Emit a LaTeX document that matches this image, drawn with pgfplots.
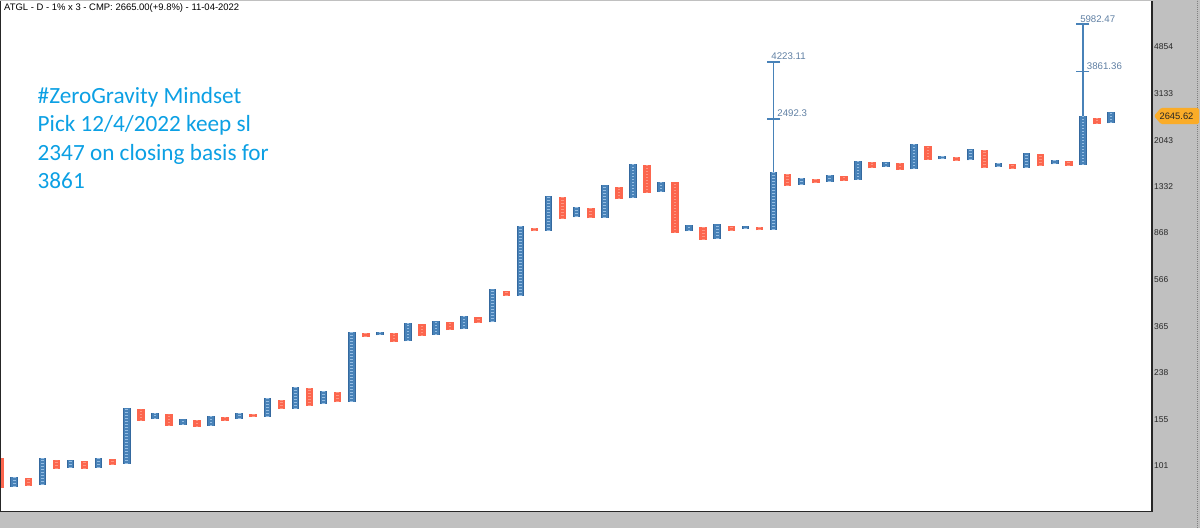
\documentclass[border=0pt]{standalone}
\usepackage{pgfplots}
\pgfplotsset{compat=1.18}
\usepackage{pgfplotstable}
\usepackage{fontspec}
\setmainfont{Liberation Sans}
\newfontfamily\calibri{Carlito}

\definecolor{xblue}{RGB}{72,130,184}
\definecolor{xbluedk}{RGB}{52,104,158}
\definecolor{xbluelt}{RGB}{150,190,228}
\definecolor{ored}{RGB}{252,102,78}
\definecolor{oredlt}{RGB}{255,150,130}
\definecolor{txtblue}{RGB}{12,160,228}
\definecolor{tgtlab}{RGB}{96,128,164}
\definecolor{tag}{RGB}{250,172,40}
\definecolor{panel}{RGB}{192,192,192}

% X columns (rising), column index, low, high
\pgfplotstableread{
x lo hi
1 82.8 90.8
3 84.3 108.3
5 98.7 106.3
7 98.7 108.3
9 102.4 172.4
11 155.2 164.1
13 146.9 155.2
15 145.5 159.6
17 155.2 164.1
19 158.6 188.1
21 170.3 209.4
23 177.9 201.2
25 182.2 348.0
27 336.6 347.1
29 318.5 378.3
31 338.5 384.3
33 355.9 403.6
35 379.7 515.2
37 485.5 925.1
39 885.8 1223.9
41 1002.5 1099.6
43 996.0 1351.3
45 1195.0 1645.6
47 1270.3 1393.4
49 880.9 931.1
51 822.5 939.7
53 899.9 925.1
55 893.9 1520.2
57 1351.3 1437.9
59 1393.4 1482.6
61 1415.4 1692.0
63 1600.7 1671.9
65 1563.1 1969.3
67 1714.4 1772.0
69 1698.6 1880.6
71 1596.3 1656.5
73 1586.1 1811.5
75 1636.6 1698.6
77 1630.5 2551.3
79 2390.9 2662.5
}\xcols

% O columns (falling)
\pgfplotstableread{
x lo hi
0 82.0 108.3
2 83.6 90.0
4 97.8 106.3
6 97.8 105.3
8 101.5 107.3
10 152.4 170.3
12 145.5 162.6
14 144.2 153.8
16 152.4 158.1
18 158.1 162.6
20 169.9 185.6
22 175.1 207.4
24 181.2 199.3
26 332.3 343.9
28 315.6 343.9
30 335.4 372.8
32 353.4 379.7
34 377.3 398.8
36 484.2 507.2
38 880.9 908.2
40 987.0 1206.0
42 993.3 1089.5
44 1184.0 1330.3
46 1255.1 1630.5
48 869.4 1389.6
50 812.7 919.0
52 885.8 927.7
54 889.0 916.5
56 1338.9 1496.4
58 1372.9 1424.7
60 1402.4 1469.0
62 1577.5 1671.9
64 1552.8 1652.0
66 1703.3 1938.3
68 1687.7 1755.7
70 1577.5 1873.8
72 1566.6 1636.6
74 1611.1 1795.4
76 1615.6 1683.0
78 2369.1 2518.5
}\ocols

\pgfplotsset{
  col/.style n args={3}{draw=none, no marks, forget plot,
    error bars/.cd, y dir=plus, y explicit, error mark=none,
    error bar style={draw=#1, line width=#2, #3}},
}

\begin{document}
\begin{tikzpicture}[x=1bp,y=1bp]
\path[use as bounding box, fill=panel] (0,0) rectangle (1200,528);
\begin{axis}[
  at={(0bp,16.5bp)}, anchor=south west, scale only axis,
  width=1152bp, height=510.5bp,
  xmin=-0.0142, xmax=81.92,
  ymode=log, ymin=65.99, ymax=7410,
  axis background/.style={fill=white},
  axis line style={draw=none},
  xtick=\empty,
  ytick={101,155,238,365,566,868,1332,2043,3133,4854},
  yticklabels={101,155,238,365,566,868,1332,2043,3133,4854},
  yminorticks=false,
  yticklabel pos=right,
  major tick length=0pt, minor tick length=0pt,
  yticklabel style={anchor=west, inner sep=0pt, xshift=2bp,
    font=\fontsize{8.5}{10}\selectfont, text=black!85},
]
% rising columns
\addplot[col={xbluedk}{7.6bp}{}] table[x=x, y=lo, y error plus expr=\thisrow{hi}-\thisrow{lo}] {\xcols};
\addplot[col={xblue}{5.6bp}{}] table[x=x, y=lo, y error plus expr=\thisrow{hi}-\thisrow{lo}] {\xcols};
\addplot[col={xbluelt}{2.6bp}{dash pattern=on 1bp off 2bp}]
  table[x=x, y=lo, y error plus expr=\thisrow{hi}-\thisrow{lo}] {\xcols};
% falling columns
\addplot[col={ored}{7.6bp}{}] table[x=x, y=lo, y error plus expr=\thisrow{hi}-\thisrow{lo}] {\ocols};
\addplot[col={oredlt}{2.6bp}{dash pattern=on 1bp off 2bp}]
  table[x=x, y=lo, y error plus expr=\thisrow{hi}-\thisrow{lo}] {\ocols};

% projected targets
\addplot[xblue, line width=1.8bp, forget plot] coordinates {(55,1520.2) (55,4223.11)};
\addplot[xblue, line width=1.8bp, forget plot] coordinates {(77,2551.3) (77,5982.47)};
\addplot[only marks, mark=-, mark size=6.5bp, mark options={xblue, line width=1.8bp}, forget plot]
  coordinates {(55,2492.3) (55,4223.11) (77,3861.36) (77,5982.47)};

\tikzset{tgt/.style={anchor=base west, inner sep=0pt, text=tgtlab, font=\fontsize{9.7}{11}\selectfont, yshift=2bp}}
\node[tgt, xshift=-2.3bp] at (axis cs:55,4223.11) {4223.11};
\node[tgt, xshift=3.7bp] at (axis cs:55,2492.3) {2492.3};
\node[tgt, xshift=-2.8bp] at (axis cs:77,5982.47) {5982.47};
\node[tgt, xshift=3.9bp] at (axis cs:77,3861.36) {3861.36};
\end{axis}

% frame
\draw[black!85, line width=1.2bp] (0.6,527) -- (0.6,16.5) -- (1152,16.5) -- (1152,527);
\draw[black!50, line width=0.8bp, dash pattern=on 1bp off 1bp] (1197.6,0) -- (1197.6,528);

% last price tag
\fill[tag, rounded corners=1.5bp] (1154,412) -- (1161,420.2) -- (1199,420.2) -- (1199,403.8) -- (1161,403.8) -- cycle;
\node[inner sep=0pt, font=\fontsize{9.4}{11}\selectfont, text=black!85] at (1176.5,412) {2645.62};

% header
\node[anchor=base west, inner sep=0pt, font=\fontsize{9.5}{11}\selectfont] at (4,517)
  {ATGL - D - 1\% x 3 - CMP: 2665.00(+9.8\%) - 11-04-2022};

% note
\tikzset{note/.style={anchor=base west, inner sep=0pt, text=txtblue, font=\calibri\fontsize{23.3}{28}\selectfont}}
\node[note] at (37.5,424.5) {\#ZeroGravity Mindset};
\node[note] at (37.5,396) {Pick 12/4/2022 keep sl};
\node[note] at (37.5,367.5) {2347 on closing basis for};
\node[note] at (37.5,339) {3861};
\end{tikzpicture}
\end{document}
